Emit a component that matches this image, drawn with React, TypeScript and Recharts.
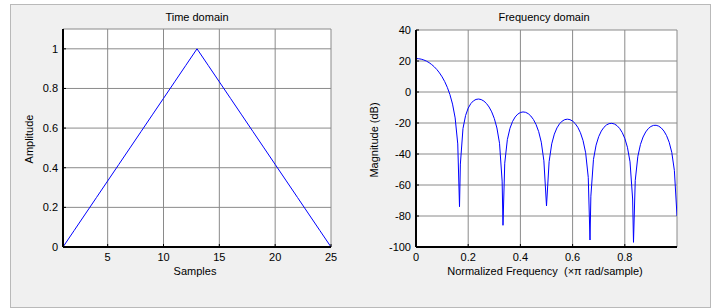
import React from 'react';
import { LineChart, Line, XAxis, YAxis, CartesianGrid } from 'recharts';

// Time domain (Bartlett window, 25 samples)
const samples = [1, 2, 3, 4, 5, 6, 7, 8, 9, 10, 11, 12, 13, 14, 15, 16, 17, 18, 19, 20, 21, 22, 23, 24, 25];
const amplitude = [0, 0.0833, 0.1667, 0.25, 0.3333, 0.4167, 0.5, 0.5833, 0.6667, 0.75, 0.8333, 0.9167, 1,
  0.9167, 0.8333, 0.75, 0.6667, 0.5833, 0.5, 0.4167, 0.3333, 0.25, 0.1667, 0.0833, 0];
const timeXTicks = [5, 10, 15, 20, 25];
const timeYTicks = [0, 0.2, 0.4, 0.6, 0.8, 1];

// Frequency domain
const freq = [0, 0.01, 0.02, 0.03, 0.04, 0.05, 0.06, 0.07, 0.08, 0.09, 0.1, 0.11, 0.12, 0.13, 0.14, 0.15, 0.16, 0.1667,
  0.17, 0.18, 0.19, 0.2, 0.21, 0.22, 0.23, 0.24, 0.25, 0.26, 0.27, 0.28, 0.29, 0.3, 0.31, 0.32, 0.33, 0.3333,
  0.34, 0.35, 0.36, 0.37, 0.38, 0.39, 0.4, 0.41, 0.42, 0.43, 0.44, 0.45, 0.46, 0.47, 0.48, 0.49, 0.5,
  0.51, 0.52, 0.53, 0.54, 0.55, 0.56, 0.57, 0.58, 0.59, 0.6, 0.61, 0.62, 0.63, 0.64, 0.65, 0.66, 0.6667,
  0.67, 0.68, 0.69, 0.7, 0.71, 0.72, 0.73, 0.74, 0.75, 0.76, 0.77, 0.78, 0.79, 0.8, 0.81, 0.82, 0.83, 0.8333,
  0.84, 0.85, 0.86, 0.87, 0.88, 0.89, 0.9, 0.91, 0.92, 0.93, 0.94, 0.95, 0.96, 0.97, 0.98, 0.99, 1.0];
const magnitudeDb = [21.58, 21.48, 21.17, 20.65, 19.92, 18.95, 17.73, 16.25, 14.46, 12.32, 9.77, 6.71, 2.98, -1.69, -7.82, -16.71, -33.49, -74,
  -46.52, -23.58, -15.15, -10.41, -7.49, -5.72, -4.78, -4.53, -4.9, -5.85, -7.42, -9.69, -12.81, -17.1, -23.22, -33.07, -57.47, -86,
  -45.93, -30.71, -23.43, -18.99, -16.1, -14.26, -13.22, -12.86, -13.11, -13.98, -15.5, -17.77, -20.98, -25.54, -32.36, -44.38, -73.5,
  -44.92, -33.45, -27.18, -23.17, -20.51, -18.79, -17.83, -17.53, -17.84, -18.77, -20.39, -22.81, -26.29, -31.33, -39.21, -55.06, -95.5,
  -67.22, -43.46, -34.27, -28.81, -25.21, -22.79, -21.24, -20.4, -20.21, -20.63, -21.69, -23.47, -26.11, -29.94, -35.63, -45.05, -69.04, -97,
  -57.11, -41.5, -33.85, -29.04, -25.8, -23.62, -22.24, -21.55, -21.48, -22.03, -23.24, -25.21, -28.13, -32.4, -38.94, -50.67, -80];
const freqXTicks = [0, 0.2, 0.4, 0.6, 0.8];
const freqYTicks = [-100, -80, -60, -40, -20, 0, 20, 40];

const timeData = samples.map((x, i) => ({ x, y: amplitude[i] }));
const freqData = freq.map((x, i) => ({ x, y: magnitudeDb[i] }));

const FONT = 'Liberation Sans, Arial, Helvetica, sans-serif';
const tickStyle = { fill: '#000', fontSize: 11, fontFamily: FONT };
const empty = () => '';

function Panel(props: any) {
  const { data, left, width, marginTop, marginRight, yWidth, xDomain, yDomain, xTicks, yTicks, xFmt, yFmt } = props;
  return (
    <div style={{ position: 'absolute', left, top: 0 }}>
      <LineChart width={width} height={308} data={data}
        margin={{ top: marginTop, right: marginRight, bottom: 0, left: 0 }}>
        <CartesianGrid stroke="#8a8a8a" strokeWidth={1} fill="#ffffff"
          verticalPoints={undefined} />
        <XAxis dataKey="x" type="number" domain={xDomain} ticks={xTicks} interval={0}
          allowDataOverflow height={61} tickSize={-3} tickMargin={9}
          tick={tickStyle} tickFormatter={xFmt}
          axisLine={{ stroke: '#000', strokeWidth: 2 }} tickLine={{ stroke: '#000' }} />
        <XAxis xAxisId="top" orientation="top" type="number" domain={xDomain} ticks={xTicks} interval={0}
          allowDataOverflow height={0} tickSize={-3} tickFormatter={empty}
          axisLine={{ stroke: '#000', strokeWidth: 1 }} tickLine={{ stroke: '#000' }} />
        <YAxis type="number" domain={yDomain} ticks={yTicks} interval={0} allowDataOverflow
          width={yWidth} tickSize={-3} tickMargin={8} tick={tickStyle} tickFormatter={yFmt}
          axisLine={{ stroke: '#000', strokeWidth: 2 }} tickLine={{ stroke: '#000' }} />
        <YAxis yAxisId="right" orientation="right" type="number" domain={yDomain} ticks={yTicks} interval={0}
          allowDataOverflow width={0} tickSize={-3} tickFormatter={empty}
          axisLine={{ stroke: '#000', strokeWidth: 1 }} tickLine={{ stroke: '#000' }} />
        <Line type="linear" dataKey="y" stroke="#0000ff" strokeWidth={1} dot={false}
          isAnimationActive={false} />
      </LineChart>
    </div>
  );
}

export default function App() {
  return (
    <div style={{ position: 'absolute', left: 0, top: 0, width: 715, height: 308, background: '#ffffff', overflow: 'hidden' }}>
      <div style={{ position: 'absolute', left: 10, top: 4, width: 699, height: 302, background: '#f0f0f0', border: '1px solid #b9b9b9' }} />
      <Panel data={timeData} left={0} width={355} marginTop={29} marginRight={24} yWidth={63}
        xDomain={[1, 25]} yDomain={[0, 1.1]} xTicks={timeXTicks} yTicks={timeYTicks}
        xFmt={(v: number) => String(v)} yFmt={(v: number) => String(v)} />
      <Panel data={freqData} left={355} width={360} marginTop={30} marginRight={38} yWidth={61}
        xDomain={[0, 1]} yDomain={[-100, 40]} xTicks={freqXTicks} yTicks={freqYTicks}
        xFmt={(v: number) => String(v)} yFmt={(v: number) => String(v)} />
      <svg width={715} height={308} style={{ position: 'absolute', left: 0, top: 0, pointerEvents: 'none' }}>
        <g fontFamily={FONT} fontSize={11} fill="#000">
          <text x={197} y={21} textAnchor="middle">Time domain</text>
          <text x={195} y={275} textAnchor="middle">Samples</text>
          <text transform="translate(33,139) rotate(-90)" textAnchor="middle">Amplitude</text>
          <text x={544} y={21} textAnchor="middle">Frequency domain</text>
          <text x={545} y={275} textAnchor="middle" style={{ whiteSpace: 'pre' }}>{'Normalized Frequency  (\u00d7\u03c0 rad/sample)'}</text>
          <text transform="translate(378,140) rotate(-90)" textAnchor="middle">Magnitude (dB)</text>
        </g>
      </svg>
    </div>
  );
}
